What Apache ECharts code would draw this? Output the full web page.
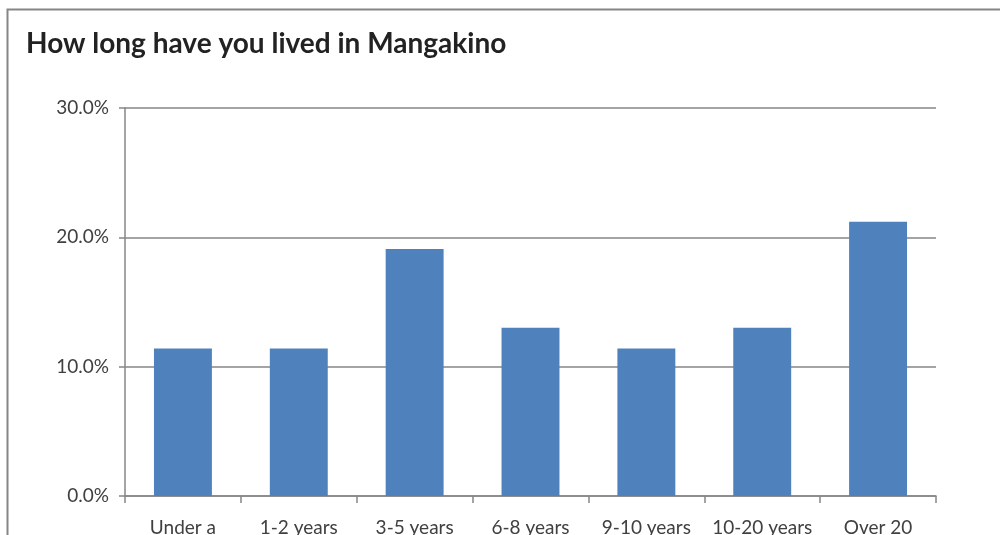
<!DOCTYPE html>
<html>
<head>
<meta charset="utf-8">
<script src="https://cdn.jsdelivr.net/npm/echarts@6/dist/echarts.min.js"></script>
<style>
html,body{margin:0;padding:0;background:#fff;}
#c{width:1000px;height:535px;}
</style>
</head>
<body>
<div id="c"></div>
<script>
const titleText = 'How long have you lived in Mangakino';
const categories = ['Under a year', '1-2 years', '3-5 years', '6-8 years', '9-10 years', '10-20 years', 'Over 20 years'];
const values = [11.4, 11.4, 19.1, 13.0, 11.4, 13.0, 21.2];
const yTicks = [0, 10, 20, 30];

const chart = echarts.init(document.getElementById('c'), null, {renderer: 'canvas'});
const axisColor = '#868686';
const textColor = '#404040';
const fontFam = 'Lato, "Open Sans", sans-serif';
chart.setOption({
  animation: false,
  backgroundColor: '#fff',
  title: {
    text: titleText,
    left: 26, top: 30, padding: 0,
    textStyle: {fontFamily: fontFam, fontSize: 28, fontWeight: 'bold', color: '#222'}
  },
  graphic: [{
    type: 'rect', left: 5, top: 7,
    shape: {width: 1100, height: 700},
    style: {fill: 'none', stroke: axisColor, lineWidth: 2},
    z: -1
  }],
  grid: {left: 125, top: 108, right: 64, bottom: 39, outerBoundsMode: 'none', containLabel: false},
  xAxis: {
    type: 'category',
    data: categories,
    axisLine: {lineStyle: {color: axisColor, width: 1.5}},
    axisTick: {show: true, length: 7, lineStyle: {color: axisColor, width: 1.5}},
    axisLabel: {
      interval: 0, margin: 22, color: textColor, fontFamily: fontFam, fontSize: 19,
      hideOverlap: false,
      formatter: v => v.length > 11 ? v.replace(/ (\S+)$/, '\n$1') : v
    }
  },
  yAxis: {
    type: 'value',
    min: yTicks[0], max: yTicks[yTicks.length - 1], interval: 10,
    axisLine: {show: true, lineStyle: {color: axisColor, width: 1.5}},
    axisTick: {show: true, length: 6, lineStyle: {color: axisColor, width: 1.5}},
    splitLine: {lineStyle: {color: axisColor, width: 1.5}},
    axisLabel: {margin: 16, color: textColor, fontFamily: fontFam, fontSize: 19,
      formatter: v => v.toFixed(1) + '%'}
  },
  series: [{
    type: 'bar',
    data: values,
    barCategoryGap: '50%',
    itemStyle: {color: '#4f81bd'}
  }]
});
</script>
</body>
</html>
